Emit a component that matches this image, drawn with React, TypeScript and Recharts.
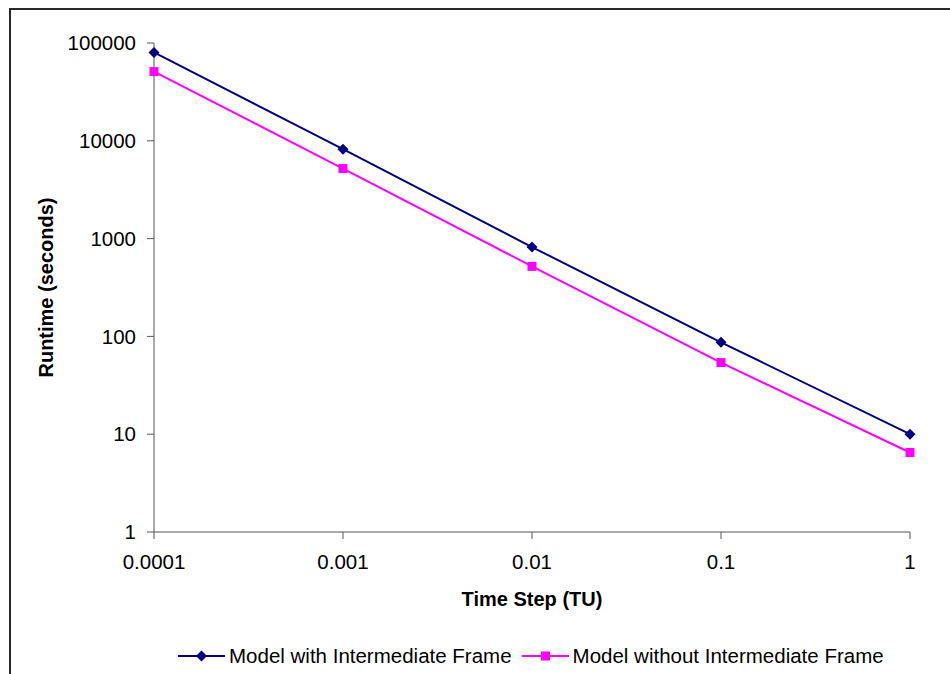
import React from 'react';
import { LineChart, Line, XAxis, YAxis, Legend } from 'recharts';

const timeSteps = [0.0001, 0.001, 0.01, 0.1, 1];
const withFrame = [80000, 8200, 820, 87, 10];
const withoutFrame = [51000, 5200, 520, 54, 6.5];
const yTicks = [1, 10, 100, 1000, 10000, 100000];

const NAVY = '#000080';
const MAGENTA = '#FF00FF';
const FONT = '"Liberation Sans", Arial, sans-serif';

const data = timeSteps.map((t, i) => ({
  t,
  withFrame: withFrame[i],
  withoutFrame: withoutFrame[i],
}));

function Marker({ cx, cy, shape, color }: { cx: number; cy: number; shape: string; color: string }) {
  if (shape === 'diamond') {
    const r = 5.5;
    return <path d={`M${cx},${cy - r}L${cx + r},${cy}L${cx},${cy + r}L${cx - r},${cy}Z`} fill={color} />;
  }
  const h = 4.5;
  return <rect x={cx - h} y={cy - h} width={h * 2} height={h * 2} fill={color} />;
}

const shapes: Record<string, string> = { withFrame: 'diamond', withoutFrame: 'square' };

function LegendContent(props: any) {
  const { payload } = props;
  return (
    <div style={{ height: 68, display: 'flex', alignItems: 'flex-end', paddingLeft: 178, boxSizing: 'border-box' }}>
      <div style={{ display: 'flex', alignItems: 'center', height: 24, marginBottom: 6 }}>
        {payload.map((p: any) => (
          <div key={p.dataKey} style={{ display: 'flex', alignItems: 'center', marginRight: 10 }}>
            <svg width={47} height={14}>
              <line x1={0} y1={7} x2={47} y2={7} stroke={p.color} strokeWidth={2} />
              <Marker cx={23.5} cy={7} shape={shapes[p.dataKey]} color={p.color} />
            </svg>
            <span style={{ fontFamily: FONT, fontSize: 20.5, color: '#000', marginLeft: 4 }}>{p.value}</span>
          </div>
        ))}
      </div>
    </div>
  );
}

export default function App() {
  return (
    <div style={{ position: 'absolute', left: 0, top: 0, width: 950, height: 674, overflow: 'hidden', background: '#fff' }}>
      <div
        style={{
          position: 'absolute',
          left: 9,
          top: 8,
          width: 1000,
          height: 1000,
          borderTop: '2px solid #2a2a2a',
          borderLeft: '2px solid #2a2a2a',
        }}
      />
      <div style={{ position: 'absolute', left: 0, top: 0 }}>
        <LineChart width={950} height={674} data={data} margin={{ top: 43, right: 40, bottom: 0, left: 0 }}>
          <XAxis
            dataKey="t"
            type="number"
            scale="log"
            domain={[0.0001, 1]}
            ticks={timeSteps}
            tickFormatter={(v: number) => String(v)}
            height={74}
            tickSize={7}
            tickMargin={15}
            stroke="#555"
            tick={{ fill: '#000', fontSize: 20.5, fontFamily: FONT }}
            label={{
              value: 'Time Step (TU)',
              position: 'insideBottom',
              offset: 0,
              style: { fontFamily: FONT, fontSize: 20, fontWeight: 'bold', fill: '#000' },
            }}
          />
          <YAxis
            type="number"
            scale="log"
            domain={[1, 100000]}
            ticks={yTicks}
            width={154}
            tickSize={7}
            tickMargin={11}
            stroke="#555"
            tick={{ fill: '#000', fontSize: 20.5, fontFamily: FONT }}
            label={{
              value: 'Runtime (seconds)',
              angle: -90,
              position: 'insideLeft',
              offset: 46,
              style: { textAnchor: 'middle', fontFamily: FONT, fontSize: 20, fontWeight: 'bold', fill: '#000' },
            }}
          />
          <Legend verticalAlign="bottom" content={<LegendContent />} />
          <Line
            dataKey="withFrame"
            name="Model with Intermediate Frame"
            stroke={NAVY}
            strokeWidth={2}
            isAnimationActive={false}
            dot={(p: any) => <Marker key={`a${p.index}`} cx={p.cx} cy={p.cy} shape="diamond" color={NAVY} />}
          />
          <Line
            dataKey="withoutFrame"
            name="Model without Intermediate Frame"
            stroke={MAGENTA}
            strokeWidth={2}
            isAnimationActive={false}
            dot={(p: any) => <Marker key={`b${p.index}`} cx={p.cx} cy={p.cy} shape="square" color={MAGENTA} />}
          />
        </LineChart>
      </div>
    </div>
  );
}
